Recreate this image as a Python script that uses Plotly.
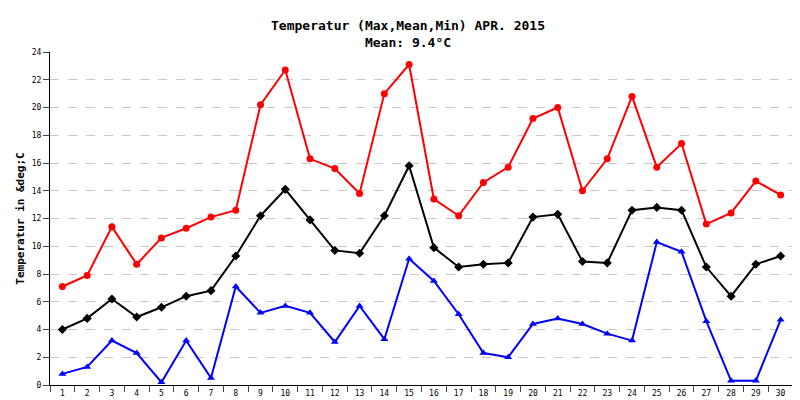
import plotly.graph_objects as go

days = [str(d) for d in range(1, 31)]
t_max = [7.1, 7.9, 11.4, 8.7, 10.6, 11.3, 12.1, 12.6, 20.2, 22.7, 16.3, 15.6, 13.8, 21.0, 23.1,
         13.4, 12.2, 14.6, 15.7, 19.2, 20.0, 14.0, 16.3, 20.8, 15.7, 17.4, 11.6, 12.4, 14.7, 13.7]
t_mean = [4.0, 4.8, 6.2, 4.9, 5.6, 6.4, 6.8, 9.3, 12.2, 14.1, 11.9, 9.7, 9.5, 12.2, 15.8,
          9.9, 8.5, 8.7, 8.8, 12.1, 12.3, 8.9, 8.8, 12.6, 12.8, 12.6, 8.5, 6.4, 8.7, 9.3]
t_min = [0.8, 1.3, 3.2, 2.3, 0.2, 3.2, 0.5, 7.1, 5.2, 5.7, 5.2, 3.1, 5.7, 3.3, 9.1,
         7.5, 5.1, 2.3, 2.0, 4.4, 4.8, 4.4, 3.7, 3.2, 10.3, 9.6, 4.6, 0.3, 0.3, 4.7]

fig = go.Figure()
fig.add_trace(go.Scatter(x=days, y=t_max, mode="lines+markers", name="Max",
                         line=dict(color="#ff0000", width=2),
                         marker=dict(symbol="circle", size=7, color="#ff0000")))
fig.add_trace(go.Scatter(x=days, y=t_mean, mode="lines+markers", name="Mean",
                         line=dict(color="#000000", width=2),
                         marker=dict(symbol="diamond", size=7, color="#000000")))
fig.add_trace(go.Scatter(x=days, y=t_min, mode="lines+markers", name="Min",
                         line=dict(color="#0000ff", width=2),
                         marker=dict(symbol="triangle-up", size=7, color="#0000ff")))

mono = "DejaVu Sans Mono"
fig.update_layout(
    width=800, height=400,
    margin=dict(l=42, r=15, t=44, b=23, autoexpand=False),
    paper_bgcolor="white", plot_bgcolor="white",
    showlegend=False,
    font=dict(family=mono, size=8, color="black"),
    title=dict(text="<b>Temperatur (Max,Mean,Min) APR. 2015<br>Mean: 9.4°C</b>",
               x=0.5, xanchor="center", yref="container", y=0.945, yanchor="middle",
               font=dict(family=mono, size=13)),
    xaxis=dict(type="category", range=[-0.5, 29.5], tickson="boundaries",
               ticks="outside", ticklen=6, showline=True, linecolor="black",
               showgrid=False, tickfont=dict(size=8), automargin=False),
    yaxis=dict(range=[0, 24], dtick=2, ticks="outside", ticklen=6,
               showline=True, linecolor="black", mirror=True, automargin=False,
               showgrid=True, gridcolor="#c8c8c8", griddash="dash", zeroline=False,
               title=dict(text="<b>Temperatur in &amp;deg;C</b>", font=dict(size=11), standoff=4),
               tickfont=dict(size=8)),
)

fig.write_html("out.html")
